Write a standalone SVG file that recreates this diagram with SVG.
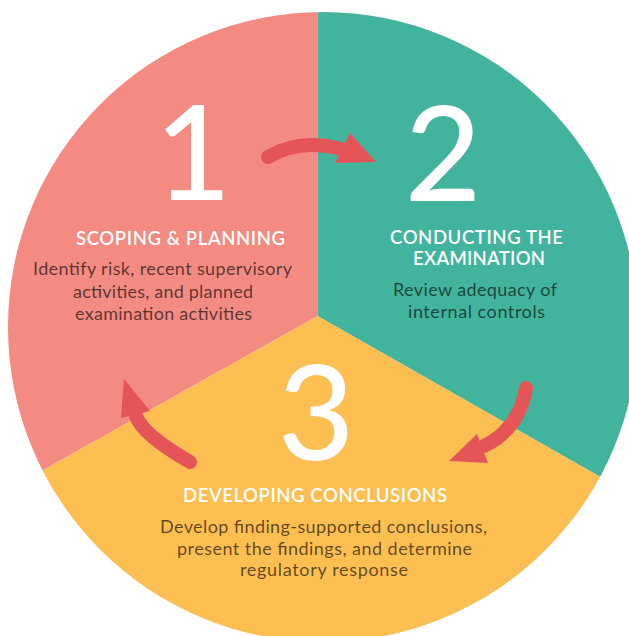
<svg xmlns="http://www.w3.org/2000/svg" width="629" height="636" viewBox="0 0 629 636">
  <style>
    .num { font-family: Lato, "Open Sans", "Liberation Sans", sans-serif; font-size: 132px; font-weight: 500; fill: #ffffff; text-anchor: middle; }
    .head { font-family: Lato, "Open Sans", "Liberation Sans", sans-serif; font-size: 18.5px; font-weight: 600; fill: #ffffff; text-anchor: middle; }
    .desc { font-family: Lato, "Open Sans", "Liberation Sans", sans-serif; font-size: 18px; font-weight: 400; fill: #000000; fill-opacity: 0.63; text-anchor: middle; }
    .shaft { fill: none; stroke: #E55558; stroke-width: 14; stroke-linecap: round; }
    .tip { fill: #E55558; }
  </style>
  <defs>
    <clipPath id="disc">
      <circle cx="323" cy="327" r="315"/>
    </clipPath>
  </defs>
  <rect width="629" height="636" fill="#ffffff"/>

  <g clip-path="url(#disc)">
    <!-- Step 1 -->
    <g id="step-1-scoping">
      <polygon points="317.5,316 317.5,-10 -10,-10 -10,500" fill="#F38B82"/>
    </g>
    <!-- Step 2 -->
    <g id="step-2-conducting">
      <polygon points="317.5,316 317.5,-10 660,-10 660,511" fill="#42B39D"/>
    </g>
    <!-- Step 3 -->
    <g id="step-3-developing">
      <polygon points="317.5,316 -10,500 -10,660 660,660 660,511" fill="#FDBE52"/>
    </g>
  </g>

  <g id="step-1-labels">
    <text class="num" x="193" y="200">1</text>
    <text class="head" x="180.5" y="244.5" textLength="209">SCOPING &amp; PLANNING</text>
    <text class="desc" x="162.5" y="275" textLength="259">Identify risk, recent supervisory</text>
    <text class="desc" x="163" y="297.5" textLength="180">activities, and planned</text>
    <text class="desc" x="163.5" y="319.5" textLength="177">examination activities</text>
  </g>

  <g id="step-2-labels">
    <text class="num" x="443" y="201">2</text>
    <text class="head" x="476.5" y="244" textLength="173">CONDUCTING THE</text>
    <text class="head" x="479" y="265" textLength="132">EXAMINATION</text>
    <text class="desc" x="475" y="296" textLength="164">Review adequacy of</text>
    <text class="desc" x="476.5" y="318" textLength="137">internal controls</text>
  </g>

  <g id="step-3-labels">
    <text class="num" x="316" y="460">3</text>
    <text class="head" x="315" y="502" textLength="264">DEVELOPING CONCLUSIONS</text>
    <text class="desc" x="323.5" y="533" textLength="327">Develop finding-supported conclusions,</text>
    <text class="desc" x="324.5" y="555" textLength="295">present the findings, and determine</text>
    <text class="desc" x="324" y="576" textLength="168">regulatory response</text>
  </g>

  <!-- cycle arrows -->
  <g id="connectors">
    <g id="arrow-1-2">
      <path class="shaft" d="M268 157 Q300 138 341 149"/>
      <polygon class="tip" points="350,133 376,162 335,163"/>
    </g>
    <g id="arrow-2-3">
      <path class="shaft" d="M526 388 Q519 429 484 446"/>
      <polygon class="tip" points="477,434 449,461 488,463"/>
    </g>
    <g id="arrow-3-1">
      <path class="shaft" d="M190 462 Q143 435 136 416"/>
      <polygon class="tip" points="124,379 150,411 121,418"/>
    </g>
  </g>
</svg>
